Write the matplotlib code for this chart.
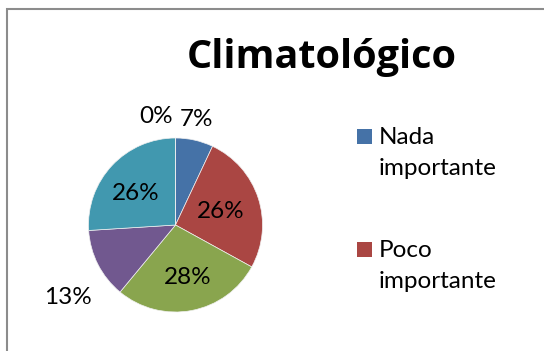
import matplotlib
matplotlib.use("Agg")
import matplotlib.pyplot as plt
from matplotlib.patches import Rectangle
import numpy as np

# ---- data ----
title = "Climatológico"
categories = ["Nada importante", "Poco importante", "Importante",
              "Muy importante", "Indispensable", "Sin respuesta"]
values = [7, 26, 28, 13, 26, 0]
pct_labels = ["7%", "26%", "28%", "13%", "26%", "0%"]
legend_shown = ["Nada\nimportante", "Poco\nimportante"]

# ---- style ----
colors = ["#4572A7", "#AA4643", "#89A54E", "#71588F", "#4198AF", "#DB843D"]
label_radius = [1.235, 0.547, 0.615, 1.49, 0.577, 1.27]
label_nudge = [1.6, -1.0, 2.7, 7.0, 5.0, 10.0]
plt.rcParams['font.family'] = ['Lato', 'DejaVu Sans']

W, H = 544, 351
fig = plt.figure(figsize=(W / 100, H / 100), dpi=100)
fig.patch.set_facecolor("white")

# chart border (extends past right/bottom edges)
fig.add_artist(Rectangle((7 / W, -0.1), 1.2, 1 - 9 / H + 0.1,
                         transform=fig.transFigure, fill=False,
                         edgecolor="#8c8c8c", linewidth=1.5))

cx, cy, r = 175.5, 225, 87
ax = fig.add_axes([(cx - r) / W, 1 - (cy + r) / H, 2 * r / W, 2 * r / H])
wedges, _ = ax.pie(values, colors=colors, startangle=90, counterclock=False,
                   radius=1, wedgeprops=dict(edgecolor="#f0f0f0", linewidth=0.5))
ax.set_xlim(-1, 1)
ax.set_ylim(-1, 1)
ax.axis("off")

for w, lab, rf, nd in zip(wedges, pct_labels, label_radius, label_nudge):
    mid = np.deg2rad((w.theta1 + w.theta2) / 2 + nd)
    ax.text(rf * np.cos(mid), rf * np.sin(mid), lab, ha="center", va="center",
            fontsize=17.5, color="black")

fig.text(321.5 / W, 1 - 68 / H, title, ha="center", va="baseline",
         fontsize=28.5, fontweight="bold", color="black",
         family=["Open Sans", "DejaVu Sans"])

# legend (only the entries that fit in the original)
baselines = [144, 257]
for lab, col, yb in zip(legend_shown, colors, baselines):
    fig.add_artist(Rectangle((357 / W, 1 - (yb) / H), 15 / W, 15 / H,
                             transform=fig.transFigure, facecolor=col,
                             edgecolor="none"))
    l1, l2 = lab.split("\n")
    fig.text(379 / W, 1 - yb / H, l1, ha="left", va="baseline", fontsize=17.5)
    fig.text(379 / W, 1 - (yb + 31) / H, l2, ha="left", va="baseline", fontsize=17.5)

fig.savefig("out.png", dpi=100)
